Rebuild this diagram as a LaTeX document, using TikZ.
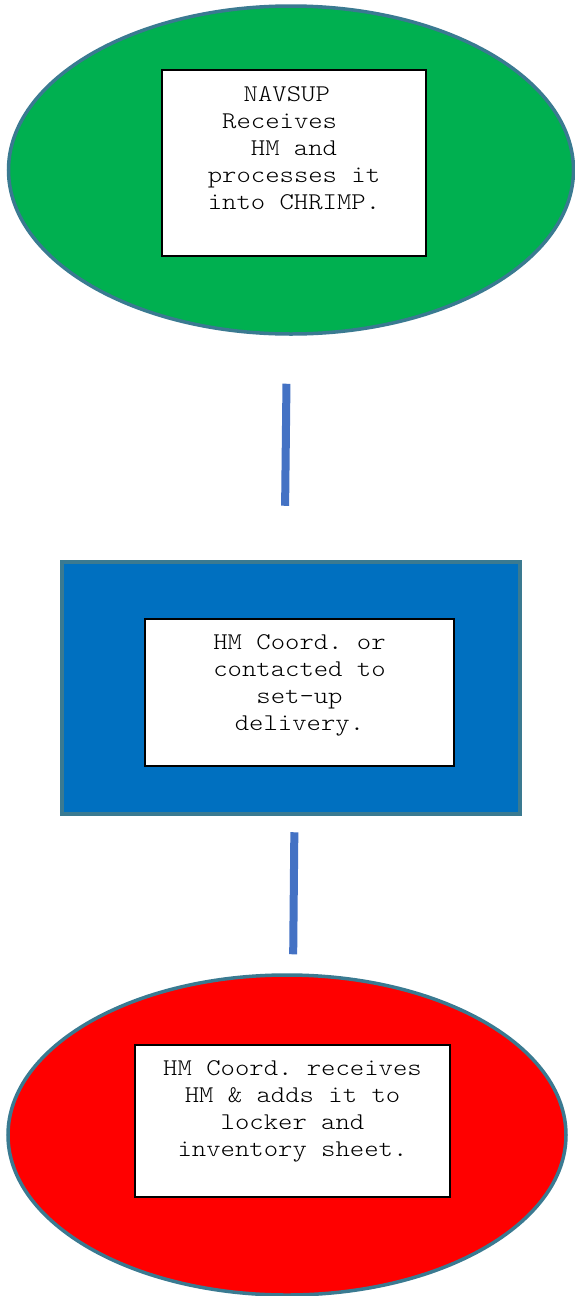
\documentclass[tikz,border=0pt]{standalone}
\usepackage{fontspec}
\setmonofont[FakeStretch=1.14]{Latin Modern Mono Light}
\usetikzlibrary{shapes.geometric}
\definecolor{edgeteal}{RGB}{58,122,145}
\definecolor{navgreen}{RGB}{0,176,80}
\definecolor{coordblue}{RGB}{0,112,192}
\definecolor{linkblue}{RGB}{68,114,196}

\begin{document}
\begin{tikzpicture}[x=1pt, y=-1pt,
    msg/.style={font=\ttfamily\fontsize{24pt}{27pt}\selectfont, align=center, inner sep=0pt, anchor=north},
    txtbox/.style={draw=black, line width=2pt, fill=white, inner sep=0pt},
    link/.style={draw=linkblue, line width=8pt}]
    \useasboundingbox (0,0) rectangle (575,1296);
    % top: NAVSUP
    \node[ellipse, draw=edgeteal, line width=3.5pt, fill=navgreen, inner sep=0pt,
        minimum width=565pt, minimum height=328pt] (navsup) at (291,170) {};
    \node[txtbox, minimum width=264pt, minimum height=186pt] (navbox) at (294,163) {};
    \node[msg] (navtxt) at (294,86) {NAVSUP\hphantom{x}\\ Receives\hphantom{xx}\\ HM and\\ processes it\\ into CHRIMP.};
    % middle: coordinator
    \node[rectangle, draw=edgeteal, line width=4.5pt, fill=coordblue, inner sep=0pt,
        minimum width=458pt, minimum height=252pt] (coord) at (291,688) {};
    \node[txtbox, minimum width=309pt, minimum height=147pt] (coordbox) at (299.5,692.5) {};
    \node[msg] (coordtxt) at (299.5,634) {HM Coord. or\\ contacted to\\ set-up\\ delivery.};
    % bottom: locker
    \node[ellipse, draw=edgeteal, line width=3.5pt, fill=red, inner sep=0pt,
        minimum width=558pt, minimum height=320pt] (locker) at (287,1135) {};
    \node[txtbox, minimum width=315pt, minimum height=152pt] (lockerbox) at (292.5,1121) {};
    \node[msg] (lockertxt) at (292.5,1060) {HM Coord. receives\\ HM \& adds it to\\ locker and\\ inventory sheet.};
    % links
    \draw[link, shorten <=48pt, shorten >=54pt] ([xshift=-4pt]navsup.south) -- ([xshift=-6.5pt]coord.north);
    \draw[link, shorten <=16pt, shorten >=19pt] ([xshift=3.5pt]coord.south) -- ([xshift=6pt]locker.north);
\end{tikzpicture}
\end{document}
